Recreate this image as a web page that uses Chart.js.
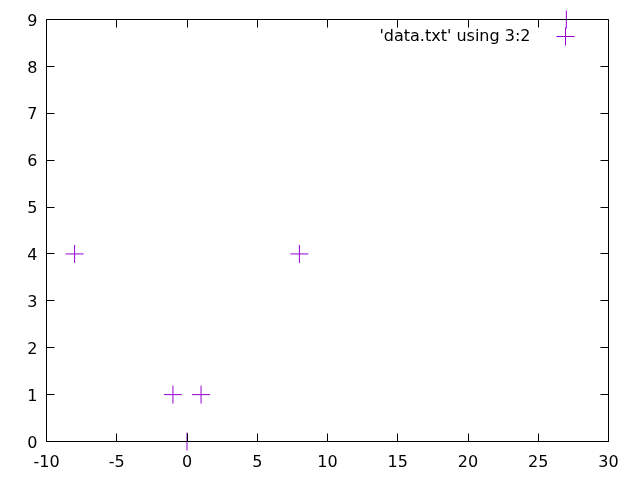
<!DOCTYPE html>
<html>
<head>
<meta charset="utf-8">
<script src="https://cdn.jsdelivr.net/npm/chart.js@4/dist/chart.umd.min.js"></script>
<style>
  html, body { margin: 0; padding: 0; background: #fff; }
  #wrap { width: 640px; height: 480px; }
</style>
</head>
<body>
<div id="wrap"><canvas id="chart" width="640" height="480"></canvas></div>
<script>
// data (column 3 on x, column 2 on y)
const seriesLabel = "'data.txt' using 3:2";
const xValues = [-8, -1, 1, 0, 8, 27];
const yValues = [4, 1, 1, 0, 4, 9];
const xTicks = [-10, -5, 0, 5, 10, 15, 20, 25, 30];
const yTicks = [0, 1, 2, 3, 4, 5, 6, 7, 8, 9];

const pointColor = '#9400d3';
const fontFamily = "'DejaVu Sans', sans-serif";
const fontSize = 16;

const points = xValues.map((x, i) => ({ x: x, y: yValues[i] }));

// frame over the points, inward ticks on all four sides, gnuplot style key
const framePlugin = {
    id: 'frame',
    afterDatasetsDraw(chart) {
        const ctx = chart.ctx;
        const a = chart.chartArea;
        const xs = chart.scales.x;
        const ys = chart.scales.y;
        const tl = 8;
        const L = Math.floor(a.left) + 0.5, R = Math.floor(a.right) + 0.5;
        const T = Math.floor(a.top) + 0.5, B = Math.floor(a.bottom) + 0.5;
        ctx.save();
        ctx.strokeStyle = '#000';
        ctx.lineWidth = 1;
        ctx.beginPath();
        ctx.rect(L, T, R - L, B - T);
        xTicks.forEach(v => {
            const px = Math.floor(xs.getPixelForValue(v)) + 0.5;
            ctx.moveTo(px, B); ctx.lineTo(px, B - tl);
            ctx.moveTo(px, T); ctx.lineTo(px, T + tl);
        });
        yTicks.forEach(v => {
            const py = Math.floor(ys.getPixelForValue(v)) + 0.5;
            ctx.moveTo(L, py); ctx.lineTo(L + tl, py);
            ctx.moveTo(R, py); ctx.lineTo(R - tl, py);
        });
        ctx.stroke();

        // key
        const keyY = T + 17;
        ctx.fillStyle = '#000';
        ctx.font = fontSize + 'px ' + fontFamily;
        ctx.textAlign = 'right';
        ctx.textBaseline = 'middle';
        ctx.fillText(chart.data.datasets[0].label, R - 78, keyY);
        const kx = Math.floor(R - 43) + 0.5;
        ctx.strokeStyle = pointColor;
        ctx.beginPath();
        ctx.moveTo(kx - 9, keyY); ctx.lineTo(kx + 9, keyY);
        ctx.moveTo(kx, keyY - 9); ctx.lineTo(kx, keyY + 9);
        ctx.stroke();
        ctx.restore();
    }
};

new Chart(document.getElementById('chart'), {
    type: 'scatter',
    data: {
        datasets: [{
            label: seriesLabel,
            data: points,
            pointStyle: 'cross',
            pointRadius: 9,
            pointHoverRadius: 9,
            borderColor: pointColor,
            backgroundColor: pointColor,
            borderWidth: 1,
            pointBorderWidth: 1,
            clip: false
        }]
    },
    options: {
        responsive: false,
        animation: false,
        events: [],
        layout: { padding: { left: 0, right: 31.5, top: 19.5, bottom: 0 } },
        plugins: {
            legend: { display: false },
            tooltip: { enabled: false }
        },
        scales: {
            x: {
                type: 'linear',
                min: -10,
                max: 30,
                afterBuildTicks: s => { s.ticks = xTicks.map(v => ({ value: v })); },
                afterFit: s => { s.height = 38.5; },
                grid: { display: false, drawTicks: false },
                border: { display: false },
                ticks: {
                    color: '#000',
                    padding: 12,
                    maxRotation: 0,
                    autoSkip: false,
                    font: { family: fontFamily, size: fontSize }
                }
            },
            y: {
                type: 'linear',
                min: 0,
                max: 9,
                afterBuildTicks: s => { s.ticks = yTicks.map(v => ({ value: v })); },
                afterFit: s => { s.width = 46.5; },
                grid: { display: false, drawTicks: false },
                border: { display: false },
                ticks: {
                    color: '#000',
                    padding: 9,
                    labelOffset: 2,
                    autoSkip: false,
                    font: { family: fontFamily, size: fontSize }
                }
            }
        }
    },
    plugins: [framePlugin]
});
</script>
</body>
</html>
